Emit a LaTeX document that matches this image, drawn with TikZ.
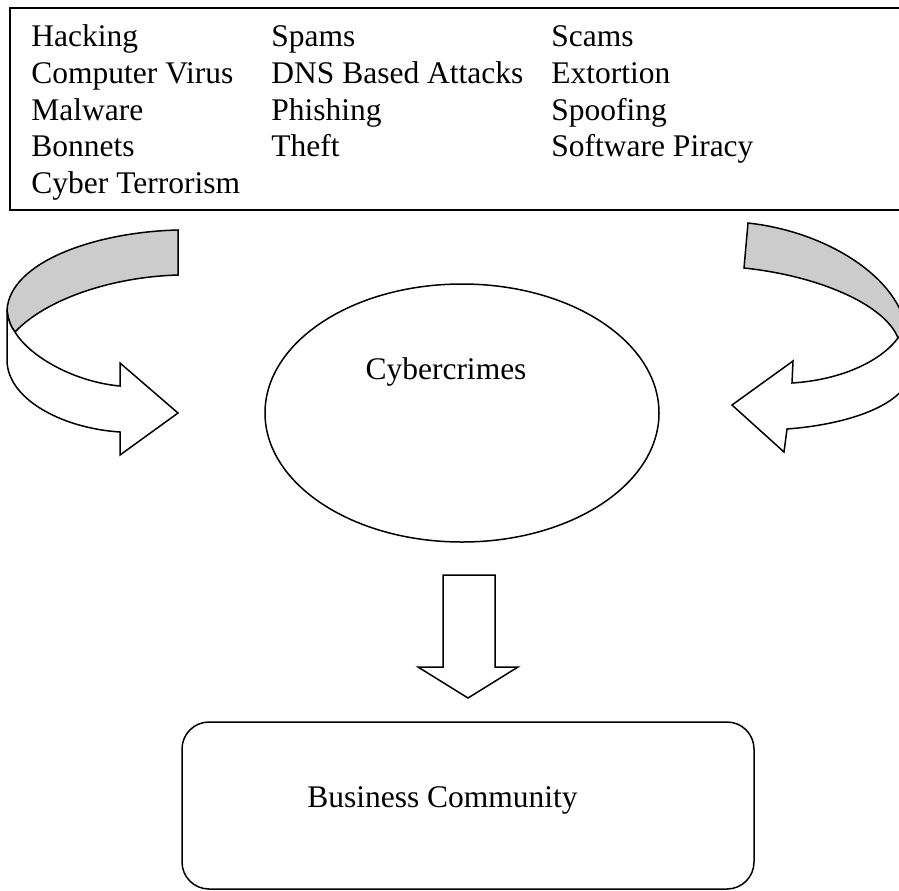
\documentclass[tikz,border=0pt]{standalone}
\usepackage{fontspec}
\setmainfont{Liberation Serif}
\usetikzlibrary{shapes.geometric}

\tikzset{
  every node/.style={font=\fontsize{15.75pt}{18.35pt}\selectfont},
  item/.style={anchor=base west,inner sep=0pt},
  blockarrow/.style={draw,line width=0.75pt,line join=miter,fill=white},
  ribbon/.style={draw,line width=0.75pt,fill=black!20}
}

\begin{document}
\begin{tikzpicture}[x=0.5pt,y=-0.5pt]
\useasboundingbox (0,0) rectangle (899,890); % khung trang
% hộp danh sách
\node[draw,line width=1pt,anchor=north west,minimum width=455pt,minimum height=101pt,inner sep=0pt] (crimelist) at (9,7) {};
\foreach \txt/\cx/\r in {Hacking/31/0, Computer Virus/31/1, Malware/31/2, Bonnets/31/3, Cyber Terrorism/31/4,
  Spams/271/0, DNS Based Attacks/271/1, Phishing/271/2, Theft/271/3,
  Scams/551/0, Extortion/551/1, Spoofing/551/2, Software Piracy/551/3}
  \node[item] (c\cx r\r) at ({\cx},{46.7+36.7*\r}) {\txt};
% hình elip
\node[ellipse,draw,line width=0.75pt,minimum width=197pt,minimum height=129pt] (crimes) at (462,413) {};
\node[anchor=base] (crimestxt) at (446,379) {Cybercrimes};
% hộp dưới
\node[draw,line width=0.75pt,rounded corners=13.5pt,minimum width=286pt,minimum height=83.5pt] (business) at (468,805.5) {};
\node[anchor=base] (businesstxt) at (442.5,807) {Business Community};
% mũi tên xuống
\draw[blockarrow] (443,575) -- (443,667) -- (418,667) -- (468,698) -- (518,667) -- (495,667) -- (495,575) -- cycle;
% mũi tên cong trái
\draw[ribbon] (178,230) .. controls (95,232) and (10,262) .. (7,310)
  .. controls (8,320) and (11,327) .. (15,332)
  .. controls (45,300) and (110,277) .. (178,275) -- cycle;
\draw[blockarrow] (7,310) -- (7,360) .. controls (7,398) and (60,428) .. (120,432)
  -- (120,455) -- (178,413) -- (120,363) -- (120,386)
  .. controls (75,382) and (30,357) .. (15,332)
  .. controls (11,327) and (8,320) .. (7,310) -- cycle;
% mũi tên cong phải
\draw[ribbon] (748,223) .. controls (830,232) and (900,280) .. (906,330)
  .. controls (904,334) and (901,336) .. (898,338)
  .. controls (885,305) and (820,276) .. (744,268) -- cycle;
\draw[blockarrow] (906,330) -- (906,385) .. controls (890,410) and (840,425) .. (787,429)
  -- (784,452) -- (732,405) -- (793,361) -- (792,383)
  .. controls (840,380) and (880,362) .. (898,338)
  .. controls (901,336) and (904,334) .. (906,330) -- cycle;
\end{tikzpicture}
\end{document}
